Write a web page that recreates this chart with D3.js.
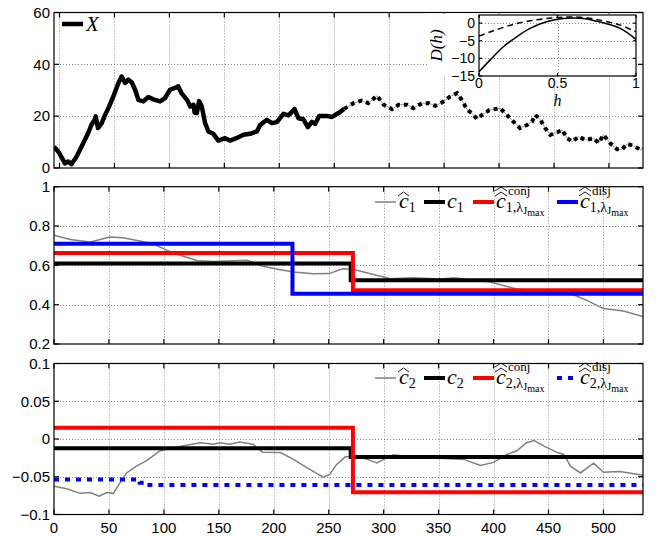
<!DOCTYPE html>
<html>
<head>
<meta charset="utf-8">
<script src="https://cdn.jsdelivr.net/npm/d3@7"></script>
<style>
  body { margin: 0; background: #fff; }
  svg { display: block; font-family: "Liberation Sans", Arial, sans-serif; }
</style>
</head>
<body>
<div id="app"></div>
<script>
//#region 1. Data
// top panel: the process X (solid up to the split, dotted after it)
const xTime = [-5, -1, 5, 8, 11, 15.6, 21.7, 26, 29, 32, 33, 35, 38.4, 41.5, 44.5, 49, 53.6, 56.6, 59.7, 62.7,
  65.8, 68.8, 71.8, 76.3, 80.9, 85.4, 91.5, 96, 100.6, 105, 108, 111, 116, 119, 122, 123, 125, 127, 129.5,
  132.5, 135.5, 140, 144.6, 150.7, 155, 161, 167.4, 173.5, 179.6, 182.6, 188.7, 193.3, 197.8, 203.8, 208.4,
  213.9, 217.5, 222, 226, 229.7, 232.7, 236.3, 243.3, 248, 255, 259, 267.6, 275, 281, 289, 295, 302.5,
  308.6, 316, 322, 330, 336, 342, 348, 355.7, 361.8, 366, 371, 375, 380, 384.5, 391, 401, 407, 413, 419,
  425.5, 430, 433, 437.6, 442, 446.7, 452.8, 457.4, 462, 466.5, 472.5, 478.6, 486, 490.7, 495, 501, 507.5,
  512, 516.6, 522.6, 528.7, 531]
const xValue = [8.2, 6.3, 1.8, 2.5, 1.5, 4.4, 9.6, 13.4, 16.6, 18.6, 19.9, 15.4, 17.3, 20.5, 23.1, 27.6, 32.8,
  35.3, 32.8, 34.1, 33, 30.2, 26.3, 25.7, 27.4, 26.5, 25.7, 27, 30.2, 30.9, 31.5, 28.9, 26.3, 23.7, 24.4,
  21.3, 21.2, 25.8, 23.7, 17.3, 14.1, 13.2, 10.6, 11.5, 10.6, 11.5, 12.8, 13.2, 14.1, 16.6, 18.6, 17.3,
  17.7, 20.9, 20.3, 22.7, 19.2, 18.8, 15.8, 17.8, 17, 20.1, 20.1, 19.7, 21.5, 22.8, 25, 26, 25, 27.9, 24.4,
  22.7, 24.4, 24.4, 23.1, 25, 25, 24, 25.3, 27.6, 28.9, 26.3, 22.5, 21.2, 18.9, 20.5, 22.3, 23.1, 20.5,
  17.9, 15.4, 16.6, 17.9, 20.5, 18.6, 15.4, 12.8, 13.7, 14.7, 11.5, 10.2, 12.1, 10.8, 11.5, 9.6, 12.8, 9.6,
  7.2, 7.2, 9.3, 8.5, 7, 7.5]
const xSplit = 259

// inset: D(h)
const insetH = [0, 0.07, 0.155, 0.24, 0.325, 0.43, 0.537, 0.664, 0.79, 0.9, 1]
const insetSolid = [-13.8, -10.5, -6.7, -3.9, -1.5, 0.37, 1.3, 1.3, 0.1, -1.5, -4.6]
const insetDashed = [-3.7, -2.5, -1.2, -0.1, 0.65, 1.3, 1.7, 1.6, 0.65, -0.57, -2.5]

// middle panel: c1
const c1HatTime = [0, 14.6, 33, 51, 63, 78, 90, 103, 115, 130, 145, 163, 176, 190, 206, 218, 236, 250, 263,
  272, 288, 306, 327, 352, 364, 373, 397, 421, 446, 470, 485, 500, 518, 536]
const c1HatValue = [0.753, 0.731, 0.719, 0.744, 0.74, 0.724, 0.71, 0.676, 0.651, 0.625, 0.62, 0.623, 0.626,
  0.595, 0.578, 0.566, 0.557, 0.558, 0.583, 0.58, 0.557, 0.532, 0.537, 0.53, 0.537, 0.53, 0.515, 0.48,
  0.466, 0.457, 0.422, 0.38, 0.368, 0.34]
const c1Breaks = [0, 270, 536]
const c1Levels = [0.609, 0.524]
const c1ConjBreaks = [0, 272, 536]
const c1ConjLevels = [0.663, 0.473]
const c1DisjBreaks = [0, 217, 536]
const c1DisjLevels = [0.71, 0.456]

// bottom panel: c2
const c2HatTime = [0, 11.5, 24, 33, 41, 48, 54, 60, 66, 75, 84, 96, 111, 118, 133, 145, 151, 160, 169, 181,
  190, 206, 218, 230, 245, 251, 257, 265, 276, 285, 294, 300, 309, 321, 343, 373, 388, 400, 412, 421, 430,
  437, 446, 458, 464, 470, 479, 491, 500, 515, 536]
const c2HatValue = [-0.0625, -0.066, -0.072, -0.071, -0.0757, -0.071, -0.072, -0.058, -0.045, -0.036,
  -0.029, -0.016, -0.011, -0.009, -0.005, -0.007, -0.005, -0.007, -0.004, -0.007, -0.0175, -0.018, -0.027,
  -0.038, -0.0506, -0.047, -0.034, -0.0236, -0.023, -0.027, -0.0316, -0.027, -0.021, -0.023, -0.025,
  -0.027, -0.035, -0.031, -0.0205, -0.016, -0.005, -0.002, -0.0095, -0.018, -0.0205, -0.036, -0.045,
  -0.032, -0.044, -0.043, -0.048]
const c2Breaks = [0, 270, 536]
const c2Levels = [-0.0122, -0.024]
const c2ConjBreaks = [0, 272, 536]
const c2ConjLevels = [0.0148, -0.0705]
const c2DisjBreaks = [0, 78, 82, 536]
const c2DisjLevels = [-0.0536, -0.058, -0.061]

const xTicks = [0, 50, 100, 150, 200, 250, 300, 350, 400, 450, 500]
const p1YTicks = [0, 20, 40, 60]
const p2YTicks = [0.2, 0.4, 0.6, 0.8, 1]
const p3YTicks = [-0.1, -0.05, 0, 0.05, 0.1]
const insetXTicks = [0, 0.5, 1]
const insetYTicks = [-15, -10, -5, 0]
//#endregion

//#region 2. Dimensions
const dimensions = { width: 659, height: 536, left: 54, right: 643 }
const serif = '"Liberation Serif", "Times New Roman", serif'
const fmt = d => String(d).replace('-', '\u2212')

const zip = (xs, ys) => xs.map((x, i) => [x, ys[i]])
const steps = (breaks, levels) => breaks.map((b, i) => [b, levels[Math.min(i, levels.length - 1)]])
const crisp = v => Math.round(v) + 0.5
//#endregion

//#region 3. Canvas
const svg = d3.select('#app').append('svg')
  .attr('width', dimensions.width)
  .attr('height', dimensions.height)

svg.append('rect').attr('width', dimensions.width).attr('height', dimensions.height).attr('fill', '#fff')
//#endregion

//#region 4. Panels
function makePanel(id, top, bottom, xDomain, yDomain) {
  const x = d3.scaleLinear().domain(xDomain).range([dimensions.left, dimensions.right])
  const y = d3.scaleLinear().domain(yDomain).range([bottom, top])
  const g = svg.append('g')

  g.append('clipPath').attr('id', id)
    .append('rect')
    .attr('x', dimensions.left).attr('y', top)
    .attr('width', dimensions.right - dimensions.left).attr('height', bottom - top)

  const grid = g.append('g')
  return { g, x, y, top, bottom, grid, plot: g.append('g').attr('clip-path', `url(#${id})`) }
}

function drawGrid(p, yTicks) {
  const grid = p.grid
    .attr('stroke', '#8c8c8c').attr('stroke-width', 1).attr('stroke-dasharray', '1 2')
  grid.selectAll('line.gx')
    .data(xTicks.filter(t => p.x(t) > dimensions.left + 2 && p.x(t) < dimensions.right - 2))
    .join('line')
      .attr('class', 'gx')
      .attr('x1', d => crisp(p.x(d))).attr('x2', d => crisp(p.x(d)))
      .attr('y1', p.top).attr('y2', p.bottom)
  grid.selectAll('line.gy')
    .data(yTicks.filter(t => p.y(t) > p.top + 2 && p.y(t) < p.bottom - 2))
    .join('line')
      .attr('class', 'gy')
      .attr('x1', dimensions.left).attr('x2', dimensions.right)
      .attr('y1', d => crisp(p.y(d))).attr('y2', d => crisp(p.y(d)))
}

function drawFrame(p, yTicks, showX) {
  const f = p.g.append('g').attr('stroke', '#000').attr('stroke-width', 1.2)
  f.append('rect')
    .attr('x', dimensions.left).attr('y', p.top)
    .attr('width', dimensions.right - dimensions.left).attr('height', p.bottom - p.top)
    .attr('fill', 'none')
  const tl = 5
  xTicks.forEach(t => {
    const xx = p.x(t)
    f.append('line').attr('x1', xx).attr('x2', xx).attr('y1', p.bottom).attr('y2', p.bottom - tl)
    f.append('line').attr('x1', xx).attr('x2', xx).attr('y1', p.top).attr('y2', p.top + tl)
  })
  yTicks.forEach(t => {
    const yy = p.y(t)
    f.append('line').attr('x1', dimensions.left).attr('x2', dimensions.left + tl).attr('y1', yy).attr('y2', yy)
    f.append('line').attr('x1', dimensions.right).attr('x2', dimensions.right - tl).attr('y1', yy).attr('y2', yy)
  })

  p.g.append('g').selectAll('text').data(yTicks).join('text')
    .attr('x', dimensions.left - 4)
    .attr('y', d => p.y(d))
    .attr('dy', '0.35em')
    .attr('text-anchor', 'end')
    .attr('font-size', 15)
    .text(fmt)

  if (showX) {
    p.g.append('g').selectAll('text').data(xTicks).join('text')
      .attr('x', d => p.x(d))
      .attr('y', p.bottom + 18)
      .attr('text-anchor', 'middle')
      .attr('font-size', 15)
      .text(fmt)
  }
}

const p1 = makePanel('clip1', 12.5, 168, [-5, 531], [0, 60])
const p2 = makePanel('clip2', 186.7, 344, [0, 536], [0.2, 1])
const p3 = makePanel('clip3', 363.5, 514.5, [0, 536], [-0.1, 0.1])
//#endregion

//#region 5. Draw data
const xPoints = zip(xTime, xValue)
const solidPart = xPoints.filter(d => d[0] <= xSplit)
const dottedPart = xPoints.filter(d => d[0] >= xSplit)

const line1 = d3.line().x(d => p1.x(d[0])).y(d => p1.y(d[1]))
p1.plot.append('path').datum(solidPart)
  .attr('d', line1).attr('fill', 'none').attr('stroke', '#000')
  .attr('stroke-width', 4.5).attr('stroke-linejoin', 'round')
p1.plot.append('path').datum(dottedPart)
  .attr('d', line1).attr('fill', 'none').attr('stroke', '#9a9a9a').attr('stroke-width', 1)
p1.plot.append('path').datum(dottedPart)
  .attr('d', line1).attr('fill', 'none').attr('stroke', '#000')
  .attr('stroke-width', 4).attr('stroke-dasharray', '4 4')

function drawSeries(p, hatPts, trueSteps, conjSteps, disjSteps, disjDash) {
  const line = d3.line().x(d => p.x(d[0])).y(d => p.y(d[1]))
  const step = d3.line().x(d => p.x(d[0])).y(d => p.y(d[1])).curve(d3.curveStepAfter)
  p.plot.append('path').datum(hatPts).attr('d', line)
    .attr('fill', 'none').attr('stroke', '#808080').attr('stroke-width', 1.5)
  p.plot.append('path').datum(trueSteps).attr('d', step)
    .attr('fill', 'none').attr('stroke', '#000').attr('stroke-width', 4)
  p.plot.append('path').datum(conjSteps).attr('d', step)
    .attr('fill', 'none').attr('stroke', '#ff0000').attr('stroke-width', 4)
  p.plot.append('path').datum(disjSteps).attr('d', step)
    .attr('fill', 'none').attr('stroke', '#0000ff').attr('stroke-width', 4)
    .attr('stroke-dasharray', disjDash)
}

drawSeries(p2, zip(c1HatTime, c1HatValue), steps(c1Breaks, c1Levels),
  steps(c1ConjBreaks, c1ConjLevels), steps(c1DisjBreaks, c1DisjLevels), null)
drawSeries(p3, zip(c2HatTime, c2HatValue), steps(c2Breaks, c2Levels),
  steps(c2ConjBreaks, c2ConjLevels), steps(c2DisjBreaks, c2DisjLevels), '5 6')
//#endregion

//#region 6. Peripherals
drawGrid(p1, p1YTicks)
drawGrid(p2, p2YTicks)
drawGrid(p3, p3YTicks)
drawFrame(p1, p1YTicks, false)
drawFrame(p2, p2YTicks, false)
drawFrame(p3, p3YTicks, true)

// legend, top panel
p1.g.append('line').attr('x1', 62).attr('x2', 83).attr('y1', 24).attr('y2', 24)
  .attr('stroke', '#000').attr('stroke-width', 4.5)
p1.g.append('text').attr('x', 86).attr('y', 31).attr('font-family', serif)
  .attr('font-style', 'italic').attr('font-size', 21).text('X')

function hat(g, x, y, w) {
  g.append('path')
    .attr('d', `M${x},${y} L${x + w / 2},${y - 4} L${x + w},${y}`)
    .attr('fill', 'none').attr('stroke', '#000').attr('stroke-width', 0.9)
}

function mathLegend(p, y, idx, lastDash) {
  const lg = p.g.append('g')
  const items = [
    { x1: 375, color: '#808080', width: 1.5, dash: null },
    { x1: 424, color: '#000', width: 4, dash: null },
    { x1: 473, color: '#ff0000', width: 4, dash: null },
    { x1: 557, color: '#0000ff', width: 4, dash: lastDash },
  ]
  items.forEach(it => {
    lg.append('line').attr('x1', it.x1).attr('x2', it.x1 + 21).attr('y1', y).attr('y2', y)
      .attr('stroke', it.color).attr('stroke-width', it.width).attr('stroke-dasharray', it.dash)
  })
  const base = y + 6
  const cText = (x, sub) => {
    const t = lg.append('text').attr('x', x).attr('y', base).attr('font-family', serif)
    t.append('tspan').attr('font-style', 'italic').attr('font-size', 22).text('c')
    t.append('tspan').attr('font-size', 14).attr('dy', 4).text(sub)
    return t
  }
  // c-hat
  cText(399, idx)
  hat(lg, 398, base - 12, 11)
  // c
  cText(447, idx)
  // conj / disj estimators
  ;[[496, 'conj'], [580, 'disj']].forEach(([x, sup]) => {
    const t = lg.append('text').attr('x', x).attr('y', base).attr('font-family', serif)
    t.append('tspan').attr('font-style', 'italic').attr('font-size', 22).text('c')
    t.append('tspan').attr('font-size', 14).attr('dy', 4).text(idx + ',\u03bb')
    t.append('tspan').attr('font-size', 11).attr('dy', 2).text('J')
    t.append('tspan').attr('font-size', 10).attr('dy', 1.5).text('max')
    hat(lg, x - 1, base - 12, 12)
    hat(lg, x - 1, base - 17, 12)
    lg.append('text').attr('x', x + 12).attr('y', base - 13).attr('font-family', serif)
      .attr('font-size', 13).text(sup)
  })
}
mathLegend(p2, 202, '1', null)
mathLegend(p3, 378, '2', '5 6')
//#endregion

//#region 7. Inset
const inset = { left: 479, right: 636, top: 15, bottom: 76 }
const ix = d3.scaleLinear().domain([0, 1]).range([inset.left, inset.right])
const iy = d3.scaleLinear().domain([-15, 2.3]).range([inset.bottom, inset.top])
const ig = svg.append('g')

ig.append('rect').attr('x', 428).attr('y', 13.5).attr('width', inset.right - 428).attr('height', inset.bottom - 13.5)
  .attr('fill', '#fff')

const igrid = ig.append('g').attr('stroke', '#8c8c8c').attr('stroke-dasharray', '1 2')
igrid.append('line').attr('x1', crisp(ix(0.5))).attr('x2', crisp(ix(0.5)))
  .attr('y1', inset.top).attr('y2', inset.bottom)
igrid.selectAll('line.iy').data(insetYTicks.filter(d => d > -15)).join('line')
  .attr('class', 'iy')
  .attr('x1', inset.left).attr('x2', inset.right).attr('y1', d => crisp(iy(d))).attr('y2', d => crisp(iy(d)))

const iline = d3.line().x(d => ix(d[0])).y(d => iy(d[1])).curve(d3.curveCatmullRom)
ig.append('path').datum(zip(insetH, insetSolid)).attr('d', iline)
  .attr('fill', 'none').attr('stroke', '#000').attr('stroke-width', 1.5)
ig.append('path').datum(zip(insetH, insetDashed)).attr('d', iline)
  .attr('fill', 'none').attr('stroke', '#000').attr('stroke-width', 1.5).attr('stroke-dasharray', '6 4')

const iframe = ig.append('g').attr('stroke', '#000').attr('stroke-width', 1.2)
iframe.append('rect')
  .attr('x', inset.left).attr('y', inset.top)
  .attr('width', inset.right - inset.left).attr('height', inset.bottom - inset.top)
  .attr('fill', 'none')
insetXTicks.forEach(t => {
  iframe.append('line').attr('x1', ix(t)).attr('x2', ix(t)).attr('y1', inset.bottom).attr('y2', inset.bottom - 3)
  iframe.append('line').attr('x1', ix(t)).attr('x2', ix(t)).attr('y1', inset.top).attr('y2', inset.top + 3)
})
insetYTicks.forEach(t => {
  iframe.append('line').attr('x1', inset.left).attr('x2', inset.left + 3).attr('y1', iy(t)).attr('y2', iy(t))
  iframe.append('line').attr('x1', inset.right).attr('x2', inset.right - 3).attr('y1', iy(t)).attr('y2', iy(t))
})

ig.selectAll('text.ixl').data(insetXTicks).join('text')
  .attr('class', 'ixl')
  .attr('x', d => ix(d)).attr('y', inset.bottom + 12)
  .attr('text-anchor', 'middle').attr('font-size', 14).text(fmt)
ig.selectAll('text.iyl').data(insetYTicks).join('text')
  .attr('class', 'iyl')
  .attr('x', inset.left - 4).attr('y', d => iy(d)).attr('dy', '0.35em')
  .attr('text-anchor', 'end').attr('font-size', 14).text(fmt)

ig.append('text').attr('x', ix(0.5)).attr('y', 106).attr('text-anchor', 'middle')
  .attr('font-family', serif).attr('font-style', 'italic').attr('font-size', 16).text('h')
ig.append('text').attr('transform', `translate(442, ${(inset.top + inset.bottom) / 2}) rotate(-90)`)
  .attr('text-anchor', 'middle').attr('font-family', serif).attr('font-style', 'italic')
  .attr('font-size', 17).text('D(h)')
//#endregion
</script>
</body>
</html>
